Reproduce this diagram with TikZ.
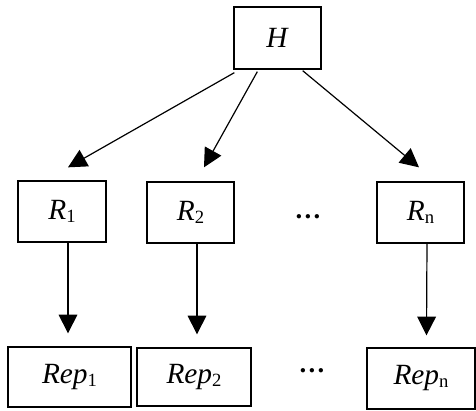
\documentclass[tikz,border=0pt]{standalone}
\usepackage{fontspec}
\setmainfont{Liberation Serif}
\usetikzlibrary{arrows.meta}
\newcommand{\lowsub}[1]{\raisebox{-0.1em}{\fontsize{14}{16}\selectfont #1}}
\begin{document}
\begin{tikzpicture}[x=0.75pt,y=-0.75pt,
  box/.style={draw,line width=1pt,inner sep=0pt,font=\fontsize{22}{26}\selectfont},
  arr/.style={line width=0.9pt,-{Triangle[length=14pt,width=14pt]}},
  dotsnode/.style={inner sep=0pt,font=\fontsize{20}{24}\selectfont}]
\useasboundingbox (0,0) rectangle (476,411);
\node[box,minimum width=65.25pt,minimum height=46.5pt] (H) at (277.5,38) {\textit{H}};
\node[box,minimum width=66pt,minimum height=45.75pt] (R1) at (62,211.5) {\textit{R}\lowsub{1}};
\node[box,minimum width=65.25pt,minimum height=45.75pt] (R2) at (190.5,212.5) {\textit{R}\lowsub{2}};
\node[box,minimum width=65.25pt,minimum height=45.75pt] (Rn) at (420.5,212.5) {\textit{R}\lowsub{n}};
\node[box,minimum width=92.25pt,minimum height=45pt] (Rep1) at (69.5,377) {\textit{Rep}\lowsub{1}};
\node[box,minimum width=85.5pt,minimum height=43.5pt] (Rep2) at (194,377) {\textit{Rep}\lowsub{2}};
\node[box,minimum width=81pt,minimum height=45.75pt] (Repn) at (421,378.5) {\textit{Rep}\lowsub{n}};
\node[dotsnode] (d1) at (308,217) {\textbf{…}};
\node[dotsnode] (d2) at (312,371) {\textbf{…}};
\draw[arr] ([shift={(1,3)}]H.south west) -- ([shift={(6,-13)}]R1.north);
\draw[arr] ([shift={(24,2)}]H.south west) -- ([shift={(13.5,-14)}]R2.north);
\draw[arr] ([shift={(-19,1)}]H.south east) -- ([shift={(-1.5,-14)}]Rn.north);
\draw[arr] ([shift={(6,0)}]R1.south) -- ([shift={(-1.5,-13)}]Rep1.north);
\draw[arr] ([shift={(6.5,0)}]R2.south) -- ([shift={(3,-13)}]Rep2.north);
\draw[arr] ([shift={(6.5,0)}]Rn.south) -- ([shift={(5.5,-12)}]Repn.north);
\end{tikzpicture}
\end{document}
